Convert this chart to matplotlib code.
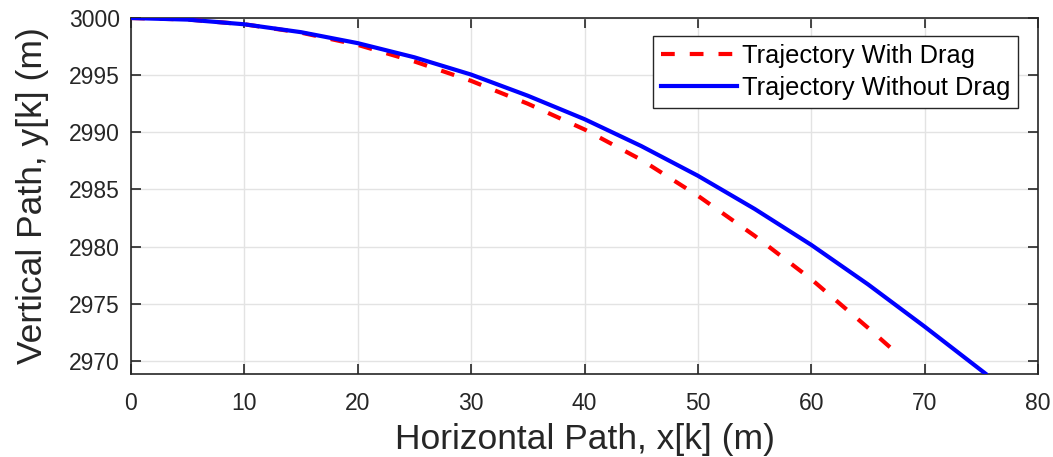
import matplotlib
matplotlib.use("Agg")
import matplotlib.pyplot as plt

plt.rcParams['font.family'] = ['Liberation Sans', 'DejaVu Sans']

# Horizontal distance (m) and height (m) for both trajectories
x_drag = [0, 5, 10, 15, 20, 25, 30, 35, 40, 45, 50, 55, 60, 65, 67.8]
y_drag = [3000, 2999.87, 2999.45, 2998.72, 2997.65, 2996.2, 2994.5, 2992.5,
          2990.25, 2987.6, 2984.45, 2980.95, 2977.15, 2972.9, 2970.45]

x_nodrag = [0, 5, 10, 15, 20, 25, 30, 35, 40, 45, 50, 55, 60, 65, 70, 75.35]
y_nodrag = [3000, 2999.86, 2999.45, 2998.76, 2997.8, 2996.56, 2995.05, 2993.2,
            2991.15, 2988.8, 2986.2, 2983.3, 2980.15, 2976.7, 2973.0, 2968.9]

x_ticks = [0, 10, 20, 30, 40, 50, 60, 70, 80]
y_ticks = [2970, 2975, 2980, 2985, 2990, 2995, 3000]

fig = plt.figure(figsize=(10.53, 4.57), dpi=100)
ax = fig.add_axes([0.1244, 0.1827, 0.8614, 0.7779])

ax.plot(x_drag, y_drag, '--', color='#ff0000', lw=3.0, dashes=(3.3, 3.6),
        label='Trajectory With Drag', zorder=3)
ax.plot(x_nodrag, y_nodrag, '-', color='#0000ff', lw=3.0,
        label='Trajectory Without Drag', zorder=4)

ax.set_xlim(0, 80)
ax.set_ylim(2968.9, 3000)
ax.set_xticks(x_ticks)
ax.set_yticks(y_ticks)

ax.grid(True, color='#e3e3e3', lw=1.0)
ax.set_axisbelow(True)
for s in ax.spines.values():
    s.set_color('#262626')
    s.set_linewidth(1.2)
ax.tick_params(direction='in', top=True, right=True, length=7, width=1.2,
               color='#262626', labelsize=16.5, labelcolor='#262626')
ax.tick_params(axis='x', pad=13)
ax.tick_params(axis='y', pad=8)

ax.set_xlabel('Horizontal Path, x[k] (m)', fontsize=25.5, color='#262626', labelpad=6)
ax.set_ylabel('Vertical Path, y[k] (m)', fontsize=25.5, color='#262626', labelpad=14)

leg = ax.legend(loc='upper right', bbox_to_anchor=(0.978, 0.949), borderaxespad=0,
                fontsize=18.3, handlelength=3.0, handletextpad=0.2, borderpad=0.3,
                labelspacing=0.33, fancybox=False, framealpha=1,
                edgecolor='#262626')
leg.get_frame().set_linewidth(1.0)

fig.savefig('out.png', dpi=100)
